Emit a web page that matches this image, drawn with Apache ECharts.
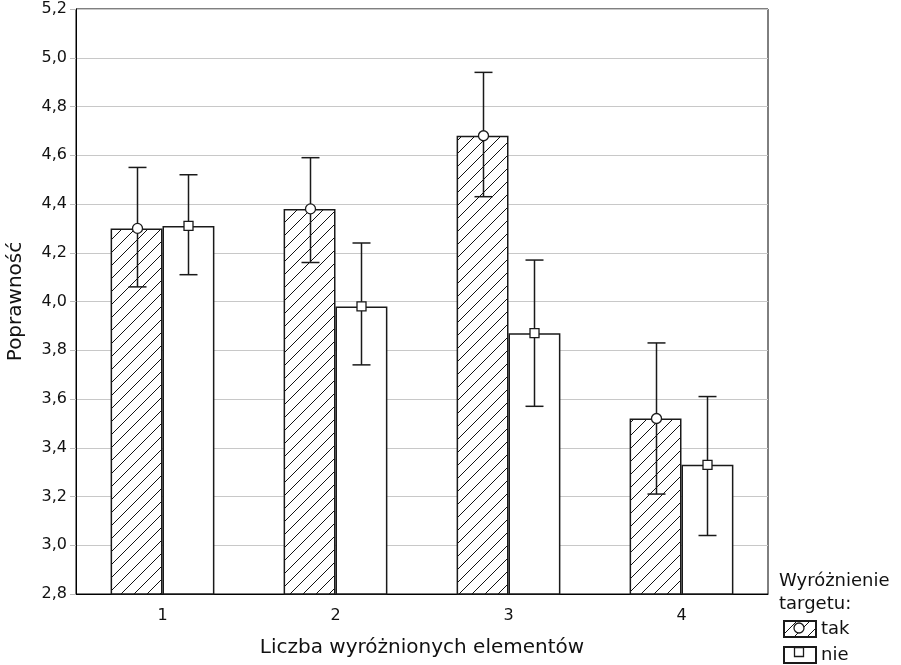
<!DOCTYPE html>
<html>
<head>
<meta charset="utf-8">
<title>Poprawność</title>
<script src="https://cdn.jsdelivr.net/npm/echarts@6/dist/echarts.min.js"></script>
<style>
  html, body { margin: 0; padding: 0; background: #fff; }
  #chart { width: 901px; height: 665px; }
</style>
</head>
<body>
<div id="chart"></div>
<script>
// Number of highlighted elements
const categories = ['1', '2', '3', '4'];
// Target highlighted ("tak") vs not highlighted ("nie"): means
const takMean = [4.30, 4.38, 4.68, 3.52];
const nieMean = [4.31, 3.98, 3.87, 3.33];
// Confidence interval bounds
const takLow  = [4.06, 4.16, 4.43, 3.21];
const takHigh = [4.55, 4.59, 4.94, 3.83];
const nieLow  = [4.11, 3.74, 3.57, 3.04];
const nieHigh = [4.52, 4.24, 4.17, 3.61];
const yTicks = { min: 2.8, max: 5.2, step: 0.2 };

const FONT = '"DejaVu Sans", sans-serif';
const INK = '#1a1a1a';

// Diagonal hatch fill for the "tak" bars
function hatch() {
  const s = 13;
  const c = document.createElement('canvas');
  c.width = s; c.height = s;
  const g = c.getContext('2d');
  g.fillStyle = '#fff';
  g.fillRect(0, 0, s, s);
  g.strokeStyle = '#111';
  g.lineWidth = 1;
  g.beginPath();
  g.moveTo(-1, s + 1); g.lineTo(s + 1, -1);
  g.moveTo(-1, 1); g.lineTo(1, -1);
  g.moveTo(s - 1, s + 1); g.lineTo(s + 1, s - 1);
  g.stroke();
  return c;
}
const hatchFill = { image: hatch(), repeat: 'repeat' };

// Error bar + mean marker, placed over the matching bar
function errorSeries(name, low, high, mean, side, marker) {
  return {
    type: 'custom',
    name: name + '_err',
    z: 5,
    data: categories.map((c, i) => [i, low[i], high[i], mean[i]]),
    renderItem: function (params, api) {
      const band = api.size([1, 0])[0];
      const off = side * band * 0.15;
      const top = api.coord([api.value(0), api.value(2)]);
      const bot = api.coord([api.value(0), api.value(1)]);
      const mid = api.coord([api.value(0), api.value(3)]);
      const x = Math.round(top[0] + off) + 0.5;
      const cap = 9;
      const st = { stroke: INK, lineWidth: 1.5, fill: null };
      const children = [
        { type: 'line', shape: { x1: x, y1: top[1], x2: x, y2: bot[1] }, style: st },
        { type: 'line', shape: { x1: x - cap, y1: top[1], x2: x + cap, y2: top[1] }, style: st },
        { type: 'line', shape: { x1: x - cap, y1: bot[1], x2: x + cap, y2: bot[1] }, style: st }
      ];
      if (marker === 'circle') {
        children.push({ type: 'circle', shape: { cx: x, cy: mid[1], r: 5 },
          style: { fill: '#fff', stroke: INK, lineWidth: 1.3 } });
      } else {
        children.push({ type: 'rect', shape: { x: x - 4.5, y: mid[1] - 4.5, width: 9, height: 9 },
          style: { fill: '#fff', stroke: INK, lineWidth: 1.3 } });
      }
      return { type: 'group', children: children };
    }
  };
}

const chart = echarts.init(document.getElementById('chart'), null, { renderer: 'canvas' });
chart.setOption({
  animation: false,
  backgroundColor: '#fff',
  textStyle: { fontFamily: FONT },
  grid: {
    left: 76, right: 133, top: 9, bottom: 71,
    containLabel: false, outerBoundsMode: 'none',
    show: true, borderColor: '#000', borderWidth: 1
  },
  xAxis: {
    type: 'category',
    data: categories,
    name: 'Liczba wyróżnionych elementów',
    nameLocation: 'middle',
    nameGap: 44,
    nameTextStyle: { fontSize: 20, color: '#111', fontFamily: FONT },
    axisLine: { lineStyle: { color: '#000', width: 1 } },
    axisTick: { show: false },
    axisLabel: { fontSize: 16, color: '#111', margin: 14, fontFamily: FONT }
  },
  yAxis: {
    type: 'value',
    min: yTicks.min, max: yTicks.max, interval: yTicks.step,
    name: 'Poprawność',
    nameLocation: 'middle',
    nameGap: 50,
    nameTextStyle: { fontSize: 20, color: '#111', fontFamily: FONT },
    axisLine: { show: true, lineStyle: { color: '#000', width: 1 } },
    axisTick: { show: true, length: 6, lineStyle: { color: '#bbb' } },
    splitLine: { lineStyle: { color: '#c8c8c8', width: 1 } },
    axisLabel: {
      fontSize: 16, color: '#111', margin: 9, fontFamily: FONT,
      formatter: v => v.toFixed(1).replace('.', ',')
    }
  },
  legend: {
    orient: 'vertical',
    left: 783, top: 620, padding: 0,
    itemWidth: 32, itemHeight: 16, itemGap: 8,
    icon: 'rect',
    textStyle: { fontSize: 18, color: '#111', fontFamily: FONT },
    data: ['tak', 'nie']
  },
  graphic: [
    {
      type: 'text', left: 779, top: 570,
      style: { text: 'Wyróżnienie\ntargetu:', font: '18px ' + FONT, fill: '#111', lineHeight: 23 }
    },
    {
      type: 'circle', z: 100, shape: { cx: 799, cy: 628, r: 5 },
      style: { fill: '#fff', stroke: INK, lineWidth: 1.3 }
    },
    {
      type: 'rect', z: 100, shape: { x: 794.5, y: 647.5, width: 9, height: 9 },
      style: { fill: '#fff', stroke: INK, lineWidth: 1.3 }
    }
  ],
  series: [
    {
      name: 'tak', type: 'bar', data: takMean,
      barGap: '0%', barCategoryGap: '40%',
      itemStyle: { color: hatchFill, borderColor: INK, borderWidth: 1.5 }
    },
    {
      name: 'nie', type: 'bar', data: nieMean,
      itemStyle: { color: '#fff', borderColor: INK, borderWidth: 1.5 }
    },
    errorSeries('tak', takLow, takHigh, takMean, -1, 'circle'),
    errorSeries('nie', nieLow, nieHigh, nieMean, 1, 'square')
  ]
});
</script>
</body>
</html>
